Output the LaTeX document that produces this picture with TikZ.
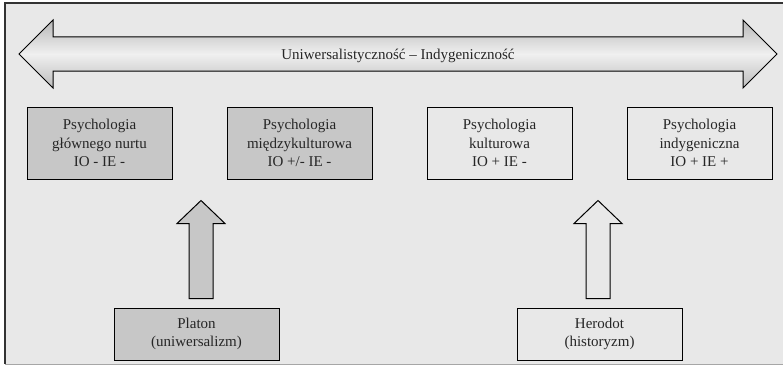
\documentclass[tikz,border=0pt]{standalone}
\usepackage{fontspec}
\setmainfont{Liberation Serif}
\usetikzlibrary{positioning, calc}

\colorlet{panelgray}{black!9}
\colorlet{boxgray}{black!22}

\begin{document}
\begin{tikzpicture}[
        x = 1pt, y = 1pt,
        node distance = 200pt,
        on grid,
        every node/.style = {font = \fontsize{15}{18.5}\selectfont, text = black!85},
        level/.style = {draw, line width = 1pt, minimum width = 145pt, minimum height = 72pt, align = center, inner sep = 0pt},
        source/.style = {level, minimum width = 165pt, minimum height = 52pt},
        darkbox/.style = {fill = boxgray},
        lightbox/.style = {fill = none},
        blockline/.style = {draw, line width = 1pt, line join = miter},
        pics/uparrow/.style = {code = {
            \path[blockline, fill = #1] (-12,0) -- (-12,75) -- (-24,75) -- (0,98) -- (24,75) -- (12,75) -- (12,0) -- cycle;
        }}
    ]

    \useasboundingbox (0,0) rectangle (783,365);
    \fill[panelgray] (5,1) rectangle (783,362);
    \draw[black!35, line width = 1pt] (5,1) -- (783,1);
    \draw[black!80, line width = 1.2pt] (783,362) -- (5,362) -- (5,1);

    % scale arrow
    \path[blockline, top color = black!28, bottom color = black!26, middle color = black!6]
        (19,311) -- (53,345) -- (53,328) -- (743,328) -- (743,345) -- (777,311)
        -- (743,277) -- (743,294) -- (53,294) -- (53,277) -- cycle;
    \node (scale) at (398,309) {Uniwersalistyczność – Indygeniczność};

    \node[level, darkbox] (main) at (99.5,222) {Psychologia\\głównego nurtu\\IO - IE -};
    \node[level, darkbox, right = of main] (cross) {Psychologia\\międzykulturowa\\IO +/- IE -};
    \node[level, lightbox, right = of cross] (cult) {Psychologia\\kulturowa\\IO + IE -};
    \node[level, lightbox, right = of cult] (indig) {Psychologia\\indygeniczna\\IO + IE +};

    \node[source, darkbox] (plato) at (196.5,31) {Platon\\(uniwersalizm)};
    \node[source, lightbox, right = 403pt of plato] (hdt) {Herodot\\(historyzm)};

    \pic at ($(plato.north)+(4.5,9)$) {uparrow = boxgray};
    \pic at ($(hdt.north)+(-1.5,9)$) {uparrow = none};

\end{tikzpicture}
\end{document}
